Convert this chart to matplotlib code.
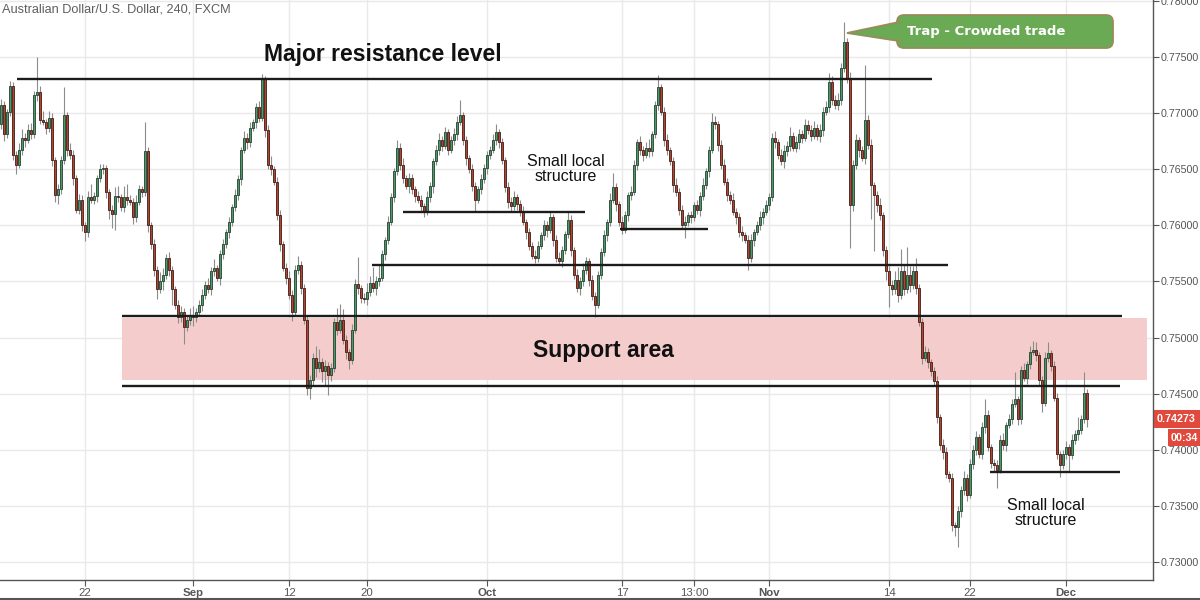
import numpy as np
import matplotlib
matplotlib.use("Agg")
import matplotlib.pyplot as plt
import matplotlib.transforms as mtransforms
from matplotlib.patches import FancyBboxPatch, Polygon, Rectangle
from matplotlib.lines import Line2D

# AUD/USD 4h candles, prices in pips (1 pip = 0.0001)
first_open_pips = 7690
close_pips = [
    7707, 7681, 7701, 7724, 7663, 7654, 7667, 7678, 7676, 7685,
    7681, 7716, 7719, 7694, 7692, 7687, 7696, 7658, 7627, 7632,
    7658, 7698, 7667, 7663, 7642, 7614, 7623, 7600, 7594, 7625,
    7623, 7626, 7642, 7650, 7651, 7630, 7614, 7610, 7626, 7625,
    7616, 7625, 7623, 7621, 7607, 7621, 7632, 7630, 7666, 7600,
    7583, 7560, 7543, 7550, 7556, 7571, 7560, 7543, 7529, 7518,
    7523, 7509, 7516, 7520, 7518, 7523, 7529, 7538, 7547, 7543,
    7559, 7562, 7553, 7574, 7583, 7594, 7603, 7616, 7627, 7641,
    7667, 7678, 7674, 7687, 7692, 7705, 7696, 7730, 7685, 7654,
    7650, 7639, 7609, 7583, 7562, 7553, 7538, 7523, 7560, 7565,
    7544, 7516, 7455, 7462, 7482, 7473, 7478, 7470, 7475, 7467,
    7473, 7514, 7507, 7516, 7498, 7487, 7480, 7507, 7548, 7544,
    7535, 7534, 7541, 7549, 7544, 7550, 7553, 7574, 7587, 7603,
    7625, 7648, 7669, 7654, 7642, 7635, 7642, 7632, 7626, 7623,
    7617, 7612, 7625, 7635, 7657, 7667, 7676, 7671, 7683, 7667,
    7676, 7681, 7692, 7698, 7676, 7660, 7650, 7635, 7623, 7632,
    7641, 7651, 7663, 7667, 7676, 7683, 7674, 7658, 7634, 7621,
    7617, 7625, 7619, 7612, 7603, 7594, 7582, 7573, 7571, 7582,
    7591, 7600, 7596, 7607, 7587, 7571, 7568, 7578, 7592, 7605,
    7578, 7556, 7544, 7550, 7560, 7568, 7551, 7537, 7529, 7556,
    7576, 7591, 7603, 7623, 7634, 7619, 7603, 7596, 7609, 7627,
    7630, 7654, 7674, 7667, 7663, 7669, 7666, 7681, 7707, 7723,
    7701, 7676, 7667, 7657, 7636, 7630, 7614, 7600, 7603, 7609,
    7607, 7618, 7614, 7626, 7636, 7648, 7667, 7692, 7690, 7672,
    7654, 7639, 7627, 7623, 7612, 7607, 7594, 7591, 7587, 7571,
    7587, 7594, 7600, 7607, 7612, 7618, 7625, 7678, 7674, 7663,
    7657, 7666, 7671, 7680, 7669, 7674, 7681, 7678, 7689, 7685,
    7680, 7687, 7680, 7685, 7701, 7705, 7728, 7712, 7707, 7712,
    7740, 7763, 7731, 7618, 7654, 7676, 7667, 7660, 7694, 7672,
    7636, 7627, 7618, 7609, 7578, 7559, 7547, 7543, 7551, 7538,
    7559, 7543, 7556, 7547, 7559, 7544, 7514, 7482, 7487, 7478,
    7470, 7461, 7429, 7404, 7398, 7378, 7375, 7333, 7331, 7345,
    7364, 7375, 7360, 7387, 7400, 7411, 7396, 7420, 7431, 7402,
    7388, 7386, 7382, 7409, 7404, 7422, 7427, 7441, 7445, 7427,
    7471, 7464, 7476, 7487, 7489, 7484, 7462, 7442, 7482, 7486,
    7475, 7446, 7396, 7386, 7396, 7402, 7395, 7409, 7414, 7418,
    7427, 7451, 7427.3,
]
wick_up_pips = [
    6, 4, 3, 5, 4, 3, 6, 8, 4, 5,
    6, 4, 31, 5, 8, 3, 6, 4, 3, 5,
    4, 25, 3, 6, 4, 3, 5, 4, 3, 6,
    12, 4, 3, 5, 4, 3, 2, 4, 8, 9,
    3, 10, 12, 4, 3, 6, 4, 3, 26, 4,
    3, 5, 4, 8, 6, 3, 5, 4, 3, 4,
    5, 3, 4, 6, 8, 3, 4, 5, 3, 6,
    4, 8, 3, 4, 5, 3, 4, 3, 5, 4,
    3, 6, 4, 5, 3, 4, 6, 5, 3, 4,
    8, 3, 4, 5, 3, 4, 6, 4, 5, 8,
    3, 4, 3, 5, 4, 10, 12, 4, 5, 3,
    4, 3, 12, 14, 9, 4, 3, 5, 4, 24,
    3, 5, 8, 6, 14, 5, 12, 4, 3, 5,
    4, 3, 7, 4, 6, 3, 5, 4, 3, 5,
    4, 3, 6, 4, 3, 5, 6, 4, 5, 3,
    4, 6, 5, 14, 3, 4, 3, 5, 4, 3,
    5, 4, 3, 4, 5, 7, 3, 4, 3, 5,
    4, 6, 3, 4, 5, 3, 4, 3, 5, 4,
    3, 5, 4, 6, 3, 4, 5, 4, 3, 8,
    4, 3, 5, 4, 6, 4, 3, 5, 4, 3,
    4, 5, 3, 6, 13, 4, 3, 5, 4, 3,
    5, 4, 3, 6, 4, 5, 8, 3, 4, 11,
    3, 4, 5, 3, 4, 6, 3, 4, 5, 3,
    4, 3, 5, 4, 6, 3, 4, 8, 5, 3,
    4, 5, 3, 4, 6, 3, 4, 5, 3, 4,
    5, 3, 4, 6, 3, 5, 4, 4, 6, 3,
    5, 6, 4, 8, 3, 6, 5, 4, 6, 5,
    4, 6, 3, 5, 4, 6, 8, 5, 4, 6,
    5, 18, 4, 6, 4, 5, 3, 4, 49, 4,
    5, 3, 4, 6, 3, 4, 5, 4, 8, 12,
    20, 6, 25, 8, 5, 12, 4, 3, 5, 4,
    3, 4, 5, 3, 6, 4, 3, 4, 3, 5,
    4, 6, 3, 5, 4, 6, 3, 5, 14, 4,
    3, 4, 5, 4, 6, 3, 5, 4, 24, 3,
    4, 6, 3, 5, 8, 7, 3, 4, 5, 10,
    3, 4, 5, 3, 4, 6, 3, 5, 4, 11,
    4, 18, 3,
]
wick_dn_pips = [
    4, 6, 3, 4, 5, 8, 3, 4, 6, 3,
    4, 3, 5, 4, 3, 6, 4, 5, 6, 8,
    4, 3, 5, 4, 6, 3, 4, 5, 8, 4,
    3, 4, 5, 3, 4, 6, 8, 12, 14, 4,
    3, 4, 5, 3, 6, 4, 3, 5, 4, 6,
    4, 5, 9, 3, 8, 4, 5, 14, 4, 5,
    4, 15, 3, 5, 8, 4, 3, 5, 4, 3,
    5, 4, 3, 6, 4, 3, 5, 4, 3, 4,
    5, 3, 6, 4, 3, 5, 4, 3, 6, 4,
    5, 3, 4, 6, 3, 5, 4, 8, 4, 3,
    5, 4, 6, 10, 5, 8, 4, 10, 12, 18,
    6, 4, 5, 3, 4, 6, 8, 4, 3, 5,
    4, 3, 5, 4, 3, 6, 4, 3, 5, 4,
    3, 4, 3, 5, 4, 3, 6, 4, 5, 3,
    4, 5, 3, 4, 6, 3, 4, 5, 3, 4,
    3, 4, 5, 3, 4, 6, 3, 4, 11, 3,
    4, 3, 5, 4, 3, 4, 5, 3, 4, 6,
    4, 3, 5, 4, 3, 6, 4, 3, 5, 4,
    3, 4, 6, 3, 5, 4, 3, 5, 4, 3,
    5, 4, 3, 6, 4, 3, 5, 4, 11, 3,
    4, 3, 5, 4, 3, 6, 4, 4, 3, 5,
    4, 3, 5, 4, 6, 3, 5, 4, 3, 4,
    3, 5, 4, 3, 6, 4, 5, 3, 11, 4,
    5, 3, 4, 6, 3, 4, 5, 3, 4, 6,
    4, 3, 5, 4, 3, 6, 4, 5, 3, 11,
    4, 5, 3, 4, 6, 3, 4, 3, 5, 4,
    3, 6, 4, 5, 3, 4, 6, 5, 3, 4,
    5, 3, 4, 6, 5, 3, 4, 5, 3, 4,
    5, 3, 4, 38, 5, 4, 6, 3, 5, 4,
    30, 50, 6, 4, 5, 8, 20, 5, 4, 6,
    4, 5, 3, 6, 4, 5, 4, 6, 3, 5,
    4, 3, 5, 4, 6, 3, 4, 5, 8, 18,
    5, 4, 6, 3, 4, 5, 3, 4, 5, 3,
    4, 5, 16, 3, 4, 5, 3, 4, 3, 5,
    4, 3, 5, 4, 3, 5, 4, 8, 3, 4,
    5, 3, 4, 10, 3, 4, 15, 3, 4, 5,
    4, 3, 7,
]

date_tick_idx = [28, 64, 96, 122, 162, 207, 231, 256, 296, 323, 355]
date_tick_labels = ["22", "Sep", "12", "20", "Oct", "17", "13:00", "Nov", "14", "22", "Dec"]
month_labels = {"Sep", "Oct", "Nov", "Dec"}
price_ticks = [0.730, 0.735, 0.740, 0.745, 0.750, 0.755, 0.760, 0.765, 0.770, 0.775, 0.780]
last_price = 0.74273
countdown = "00:34"

# drawn levels: (first candle, last candle, price)
levels = [
    (5.3, 310.3, 0.7730),
    (134.0, 194.7, 0.7612),
    (206.3, 235.7, 0.7597),
    (123.7, 315.7, 0.7565),
    (40.3, 373.7, 0.7519),
    (40.3, 373.0, 0.7457),
    (329.7, 373.0, 0.7380),
]
support_zone = (40.3, 382.0, 0.74624, 0.75177)

assert len(close_pips) == len(wick_up_pips) == len(wick_dn_pips)

close = np.array(close_pips) / 10000
open_ = np.concatenate([[first_open_pips / 10000], close[:-1]])
high = np.maximum(open_, close) + np.array(wick_up_pips) / 10000
low = np.minimum(open_, close) - np.array(wick_dn_pips) / 10000
idx = np.arange(len(close))

plt.rcParams["font.family"] = ["Liberation Sans", "DejaVu Sans"]

W, H = 1200, 600
fig = plt.figure(figsize=(12, 6), dpi=100)
fig.patch.set_facecolor("white")
ax = fig.add_axes([0, 20 / H, 1153 / W, 580 / H])
px = mtransforms.Affine2D().scale(1, -1).translate(0, H)

ax.set_xlim(-1 / 3, 384)
ax.set_ylim(0.72839, 0.78008)

# grid
for t in price_ticks:
    ax.axhline(t, color="#e9e9e9", lw=1, zorder=0)
for t in date_tick_idx:
    ax.axvline(t, color="#e9e9e9", lw=1, zorder=0)

# support zone
x0, x1, y0, y1 = support_zone
ax.add_patch(Rectangle((x0, y0), x1 - x0, y1 - y0, facecolor="#f5cccc",
                       edgecolor="none", zorder=1))

# candles
up = close >= open_
ax.vlines(idx, low, high, color="#8c8c8c", lw=0.8, zorder=2)
body_bot = np.minimum(open_, close)
body_h = np.maximum(np.abs(close - open_), 0.00003)
ax.bar(idx[up], body_h[up], bottom=body_bot[up], width=0.9,
       color="#4c9a6a", edgecolor="#25402f", linewidth=0.6, zorder=3)
ax.bar(idx[~up], body_h[~up], bottom=body_bot[~up], width=0.9,
       color="#b5432f", edgecolor="#3d1c16", linewidth=0.6, zorder=3)

# levels
for a, b, p in levels:
    ax.plot([a, b], [p, p], color="#1c1c1c", lw=1.7, solid_capstyle="butt", zorder=4)

# axes
for s in ["top", "left"]:
    ax.spines[s].set_visible(False)
for s in ["right", "bottom"]:
    ax.spines[s].set_color("#555555")
    ax.spines[s].set_linewidth(1)
ax.yaxis.tick_right()
ax.set_yticks(price_ticks)
ax.set_yticklabels([f"{t:.5f}" for t in price_ticks])
ax.set_xticks(date_tick_idx)
ax.set_xticklabels(date_tick_labels)
ax.tick_params(axis="y", colors="#555555", labelsize=7.7, length=4, pad=1.5)
ax.tick_params(axis="x", colors="#555555", labelsize=8.2, length=4, pad=2)
for lab in ax.get_xticklabels():
    if lab.get_text() in month_labels:
        lab.set_fontweight("bold")

# frame line under the date scale
fig.add_artist(Line2D([0, W], [598.5, 598.5], transform=px, color="#555555", lw=1.5))

# title
fig.text(2, 10, "Australian Dollar/U.S. Dollar, 240, FXCM", transform=px,
         fontsize=9.2, color="#5e5e5e", va="center", ha="left")

# annotations
fig.text(383, 55, "Major resistance level", transform=px, fontsize=16.5,
         fontweight="bold", color="#111111", ha="center", va="center", zorder=6)
fig.text(603, 350, "Support area", transform=px, fontsize=16.5,
         fontweight="bold", color="#111111", ha="center", va="center", zorder=6)
fig.text(566, 169, "Small local\nstructure", transform=px, fontsize=11.5,
         color="#111111", ha="center", va="center", linespacing=1.05, zorder=6)
fig.text(1046, 513, "Small local\nstructure", transform=px, fontsize=11.5,
         color="#111111", ha="center", va="center", linespacing=1.05, zorder=6)

# callout
green = "#6aaa55"
edge = "#9a8a5c"
box = FancyBboxPatch((897, 15), 216, 33, boxstyle="round,pad=0,rounding_size=7",
                     transform=px, facecolor=green, edgecolor=edge, lw=1.3, zorder=7)
fig.add_artist(box)
tip = Polygon([(847, 33), (899, 22), (899, 41)], closed=True, transform=px,
              facecolor=green, edgecolor=edge, lw=1.3, zorder=7)
fig.add_artist(tip)
cover = Polygon([(851, 33), (901, 23.2), (901, 39.8)], closed=True, transform=px,
                facecolor=green, edgecolor="none", zorder=8)
fig.add_artist(cover)
fig.text(907, 31, "Trap - Crowded trade", transform=px, fontsize=9.5,
         fontweight="bold", family=["DejaVu Sans"], color="white",
         ha="left", va="center", zorder=9)

# last price and countdown labels
py = H - ax.transData.transform((0, last_price))[1]
fig.add_artist(Rectangle((1154, py - 9), 46, 18, transform=px,
                         facecolor="#e0493b", edgecolor="none", zorder=7))
fig.text(1157, py, f"{last_price:.5f}", transform=px, fontsize=7.7,
         fontweight="bold", color="white", ha="left", va="center", zorder=8)
fig.add_artist(Rectangle((1168, py + 10), 32, 17, transform=px,
                         facecolor="#e0493b", edgecolor="none", zorder=7))
fig.text(1171, py + 18.5, countdown, transform=px, fontsize=7.7,
         fontweight="bold", color="white", ha="left", va="center", zorder=8)

fig.savefig("out.png", dpi=100)
